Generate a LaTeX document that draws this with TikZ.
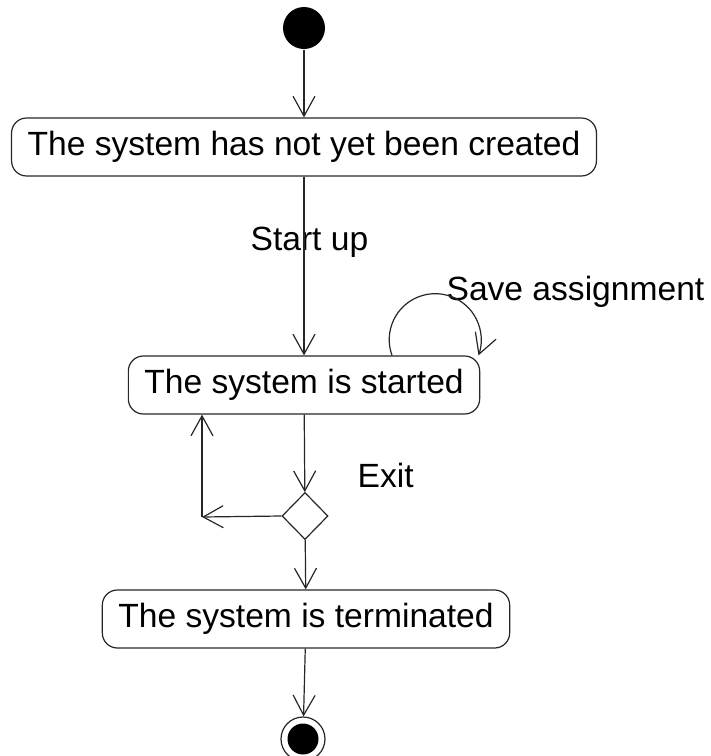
\documentclass[tikz,border=0pt]{standalone}
\usepackage{fontspec}
\setmainfont{Liberation Sans}
\usetikzlibrary{arrows.meta,shapes.geometric}
\tikzset{
  activity/.style={draw, rounded corners=7.5pt, minimum height=29pt, inner xsep=8pt},
  flow/.style={-{Straight Barb[length=10pt,width=11pt]}},
  label text/.style={anchor=west, inner sep=0pt},
}
\begin{document}
\begin{tikzpicture}[x=0.5pt, y=-0.5pt, line width=0.6pt, draw=black!85, font=\fontsize{16.8}{20}\selectfont]
  \useasboundingbox (0,0) rectangle (711,756);
  % nodes
  \node[circle, fill=black, minimum size=21pt, inner sep=0pt] (init) at (304,28) {};
  \node[activity] (created) at (304,147) {The system has not yet been created};
  \node[activity] (started) at (304,385) {The system is started};
  \node[diamond, draw, minimum width=23pt, minimum height=23.5pt, inner sep=0pt] (exitdec) at (305,516) {};
  \node[activity] (terminated) at (306,619) {The system is terminated};
  \node[circle, draw, minimum size=22pt, inner sep=0pt] (final) at (303,739) {};
  \node[circle, fill=black, minimum size=15.5pt, inner sep=0pt] at (final) {};
  \coordinate (back) at (202,517);
  % labels
  \node[label text] (startup) at (250,242) {Start up};
  \node[label text] (saveasg) at (446,292) {Save assignment};
  \node[label text] (exitlbl) at (357,475) {Exit};
  % connectors
  \draw[flow] (init) -- (created);
  \draw[flow] (created) -- (started);
  \draw[flow] ([xshift=44pt]started.north) arc[start angle=200, end angle=-20, radius=23pt];
  \draw[flow] (started) -- (exitdec);
  \draw[flow] (exitdec.west) -- (back);
  \draw[flow] (back) -- (back |- started.south);
  \draw[flow] (exitdec) -- (terminated);
  \draw[flow] (terminated) -- (final);
\end{tikzpicture}
\end{document}
